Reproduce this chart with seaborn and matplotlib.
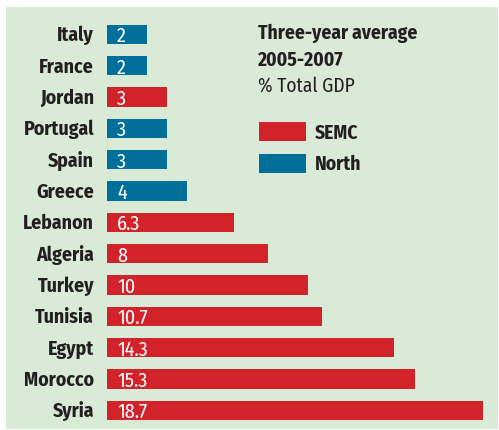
import matplotlib
matplotlib.use("Agg")
import matplotlib.pyplot as plt
import matplotlib.transforms as mtransforms
from matplotlib.patches import Rectangle
import seaborn as sns
import pandas as pd

# Aid as share of GDP, three-year average 2005-2007
countries = ["Italy", "France", "Jordan", "Portugal", "Spain", "Greece", "Lebanon",
             "Algeria", "Turkey", "Tunisia", "Egypt", "Morocco", "Syria"]
values = [2, 2, 3, 3, 3, 4, 6.3, 8, 10, 10.7, 14.3, 15.3, 18.7]
value_labels = ["2", "2", "3", "3", "3", "4", "6.3", "8", "10", "10.7", "14.3", "15.3", "18.7"]
groups = ["North", "North", "SEMC", "North", "North", "North", "SEMC",
          "SEMC", "SEMC", "SEMC", "SEMC", "SEMC", "SEMC"]

RED = "#d2232a"
BLUE = "#00709a"
GREEN_BG = "#d9ead6"
DARK = "#231f20"
palette = {"SEMC": RED, "North": BLUE}

sns.set_theme(style="white")
plt.rcParams["font.family"] = ["Fira Sans Condensed", "Roboto Condensed",
                               "Liberation Sans Narrow", "DejaVu Sans"]

W, H = 499, 430
fig = plt.figure(figsize=(W / 100, H / 100), dpi=100)
fig.patch.set_facecolor("white")

def fx(px):
    return px / W

def fy(py):
    return 1 - py / H

# green panel behind everything
fig.patches.append(Rectangle((fx(6), fy(429)), fx(492), 422 / H,
                             transform=fig.transFigure, facecolor=GREEN_BG,
                             edgecolor="none", zorder=-5))

# plot area: x=0 at 107px, ~20.1px per unit; rows every ~31.3px
px_per_unit = 20.1
ax_left, ax_right = 107, 497
row = 31.33
top_c, bot_c = 34.3, 410.3
ax_top = top_c - row / 2
ax_bot = bot_c + row / 2
ax = fig.add_axes([fx(ax_left), fy(ax_bot), fx(ax_right - ax_left), (ax_bot - ax_top) / H])
ax.patch.set_alpha(0)

df = pd.DataFrame({"country": countries, "value": values, "group": groups})
sns.barplot(data=df, y="country", x="value", hue="group", palette=palette,
            order=countries, hue_order=["SEMC", "North"], dodge=False,
            width=0.61, orient="h", legend=False, ax=ax, saturation=1,
            linewidth=0, edgecolor="none")

ax.set_xlim(0, (ax_right - ax_left) / px_per_unit)
ax.set_ylim(len(countries) - 0.5, -0.5)
ax.axis("off")

name_tr = mtransforms.offset_copy(ax.transData, fig=fig, x=-13, y=-7, units="dots")
val_tr = mtransforms.offset_copy(ax.transData, fig=fig, x=10, y=-8, units="dots")
for i, (c, lab) in enumerate(zip(countries, value_labels)):
    ax.text(0, i, c, transform=name_tr, ha="right", va="baseline",
            fontsize=14.2, fontweight="bold", color=DARK, clip_on=False)
    ax.text(0, i, lab, transform=val_tr, ha="left", va="baseline",
            fontsize=14.5, fontweight="normal", color="white")

# heading
fig.text(fx(258), fy(39), "Three-year average", fontsize=14, fontweight="bold",
         color=DARK, va="baseline", ha="left")
fig.text(fx(258), fy(66), "2005-2007", fontsize=14, fontweight="bold",
         color=DARK, va="baseline", ha="left")
fig.text(fx(258), fy(92), "% Total GDP", fontsize=14, color=DARK,
         va="baseline", ha="left")

# key
for (label, col, y0, base) in [("SEMC", RED, 122, 139), ("North", BLUE, 154, 170)]:
    fig.patches.append(Rectangle((fx(259), fy(y0 + 19)), fx(47), 19 / H,
                                 transform=fig.transFigure, facecolor=col,
                                 edgecolor="none", zorder=2))
    fig.text(fx(315), fy(base), label, fontsize=14, fontweight="bold",
             color=DARK, va="baseline", ha="left")

fig.savefig("out.png", dpi=100, facecolor="white")
